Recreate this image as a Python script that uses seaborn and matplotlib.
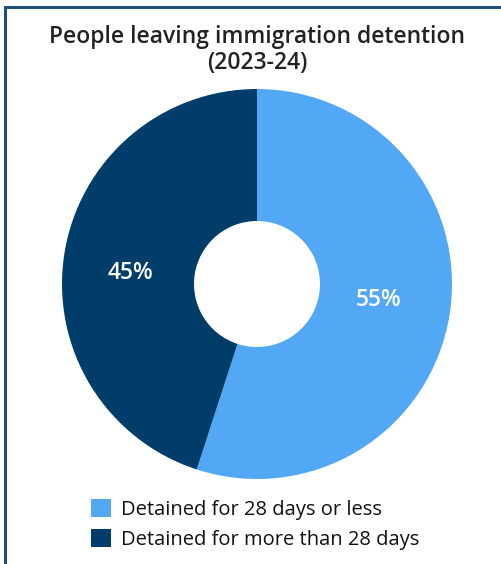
import matplotlib
matplotlib.use("Agg")
import numpy as np
import matplotlib.pyplot as plt
import seaborn as sns
from matplotlib.patches import Rectangle, Patch

categories = ["Detained for 28 days or less", "Detained for more than 28 days"]
shares = [55, 45]
colors = ["#52A8F5", "#003D6B"]

sns.set_theme(style="white")
plt.rcParams["font.family"] = ["Open Sans", "DejaVu Sans"]

fig = plt.figure(figsize=(5.02, 5.64), dpi=100)
fig.patch.set_facecolor("white")

# frame that runs off the right and bottom edges
fig.add_artist(Rectangle((5 / 502, -0.1), 1.2, 1 - 7 / 564 + 0.1, transform=fig.transFigure,
                         fill=False, edgecolor="#1F4E79", linewidth=2.2))

ax = fig.add_axes([62 / 502, 85 / 564, 390 / 502, 390 / 564])
wedges, texts = ax.pie(shares, colors=colors, startangle=90, counterclock=False,
                       radius=1, wedgeprops=dict(width=1 - 63 / 195, linewidth=0))
for w, val in zip(wedges, shares):
    ang = np.deg2rad((w.theta1 + w.theta2) / 2)
    # label sits in the ring, a bit flatter than the mid-angle
    lx = 0.645 * np.cos(ang) - 0.012
    ly = 0.45 * np.sin(ang) - 0.012
    ax.text(lx, ly, f"{val}%", ha="center", va="center",
            color="white", fontsize=16.5, fontweight="semibold")
ax.set_xlim(-1, 1)
ax.set_ylim(-1, 1)
ax.set_aspect("equal")
ax.axis("off")

fig.text(257 / 502, 1 - 37 / 564, "People leaving immigration detention", ha="center", va="center",
         fontsize=16.5, fontweight="semibold", color="#222222")
fig.text(257 / 502, 1 - 63 / 564, "(2023-24)", ha="center", va="center",
         fontsize=16.5, fontweight="semibold", color="#222222")

handles = [Patch(facecolor=c, edgecolor="none", label=l) for c, l in zip(colors, categories)]
fig.legend(handles=handles, loc="upper left", bbox_to_anchor=(91 / 502, 1 - 499 / 564),
           frameon=False, fontsize=14.5, handlelength=1.0, handleheight=1.0,
           handletextpad=0.5, labelspacing=0.45, borderaxespad=0, borderpad=0,
           labelcolor="#111111")

fig.savefig("out.png", dpi=100, facecolor="white")
